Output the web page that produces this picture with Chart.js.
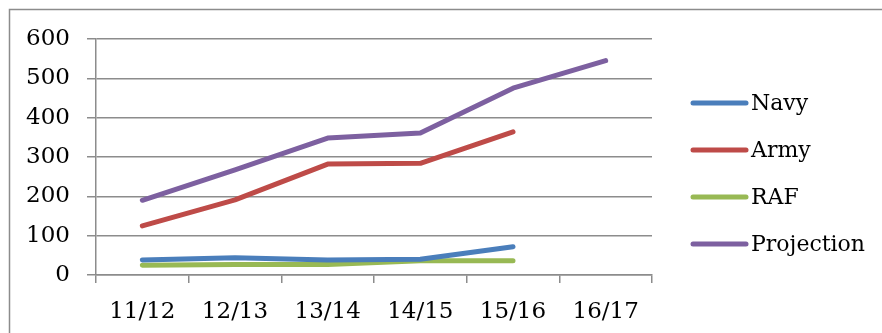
<!DOCTYPE html>
<html>
<head>
<meta charset="utf-8">
<script src="https://cdn.jsdelivr.net/npm/chart.js@4/dist/chart.umd.min.js"></script>
<style>
  html, body { margin: 0; padding: 0; background: #fff; }
  #wrap { width: 882px; height: 333px; position: relative; }
</style>
</head>
<body>
<div id="wrap"><canvas id="c" width="882" height="333"></canvas></div>
<script>
// Financial years on the category axis
const years = ['11/12', '12/13', '13/14', '14/15', '15/16', '16/17'];

// Figures per service
const navy = [38, 44, 38, 40, 72, null];
const army = [125, 191, 282, 284, 364, null];
const raf = [25, 27, 27, 36, 36, null];
const projection = [190, 267, 348, 361, 475, 545];

// Value axis ticks
const yTicks = [0, 100, 200, 300, 400, 500, 600];

const FONT = '"DejaVu Serif", "Liberation Serif", serif';
const GRID = '#8c8c8c';

// Outer frame of the chart box
const framePlugin = {
  id: 'frame',
  beforeDraw(chart) {
    const ctx = chart.ctx;
    ctx.save();
    ctx.fillStyle = '#fff';
    ctx.fillRect(0, 0, chart.width, chart.height);
    ctx.strokeStyle = GRID;
    ctx.lineWidth = 1.5;
    ctx.beginPath();
    ctx.moveTo(882, 9.5);
    ctx.lineTo(9.5, 9.5);
    ctx.lineTo(9.5, 333);
    ctx.stroke();
    ctx.restore();
  }
};

// Legend on the right: a short thick line followed by the series name
const sideLegend = {
  id: 'sideLegend',
  afterDraw(chart) {
    const ctx = chart.ctx;
    ctx.save();
    ctx.font = '22px ' + FONT;
    ctx.textBaseline = 'middle';
    ctx.textAlign = 'left';
    chart.data.datasets.forEach((ds, i) => {
      const y = 103 + i * 47;
      ctx.strokeStyle = ds.borderColor;
      ctx.lineWidth = 5;
      ctx.lineCap = 'round';
      ctx.beginPath();
      ctx.moveTo(693, y);
      ctx.lineTo(746, y);
      ctx.stroke();
      ctx.fillStyle = '#000';
      ctx.fillText(ds.label, 751, y + 1);
    });
    ctx.restore();
  }
};

const mkSeries = (label, data, color) => ({
  label, data,
  borderColor: color,
  backgroundColor: color,
  borderWidth: 5,
  borderCapStyle: 'round',
  borderJoinStyle: 'round',
  pointRadius: 0,
  pointHoverRadius: 0,
  tension: 0,
  spanGaps: false
});

new Chart(document.getElementById('c'), {
  type: 'line',
  data: {
    labels: years,
    datasets: [
      mkSeries('Navy', navy, '#4a7ebb'),
      mkSeries('Army', army, '#be4b48'),
      mkSeries('RAF', raf, '#98b954'),
      mkSeries('Projection', projection, '#7d60a0')
    ]
  },
  options: {
    responsive: false,
    animation: false,
    events: [],
    layout: { padding: { top: 39, right: 230, bottom: 0, left: 0 } },
    plugins: { legend: { display: false }, tooltip: { enabled: false } },
    scales: {
      x: {
        offset: true,
        grid: {
          offset: true,
          drawOnChartArea: false,
          drawTicks: true,
          tickLength: 8,
          color: GRID,
          lineWidth: 1.5
        },
        border: { display: true, color: GRID, width: 1.5 },
        ticks: {
          color: '#000',
          font: { family: FONT, size: 23 },
          padding: 15,
          maxRotation: 0,
          autoSkip: false
        },
        afterFit(scale) { scale.height = 58; }
      },
      y: {
        min: 0,
        max: 600,
        afterBuildTicks(scale) { scale.ticks = yTicks.map(v => ({ value: v })); },
        grid: {
          drawTicks: true,
          tickLength: 9,
          color: GRID,
          lineWidth: 1.5
        },
        border: { display: true, color: GRID, width: 1.5 },
        ticks: {
          color: '#000',
          font: { family: FONT, size: 23 },
          padding: 17
        },
        afterFit(scale) { scale.width = 96; }
      }
    }
  },
  plugins: [framePlugin, sideLegend]
});
</script>
</body>
</html>
